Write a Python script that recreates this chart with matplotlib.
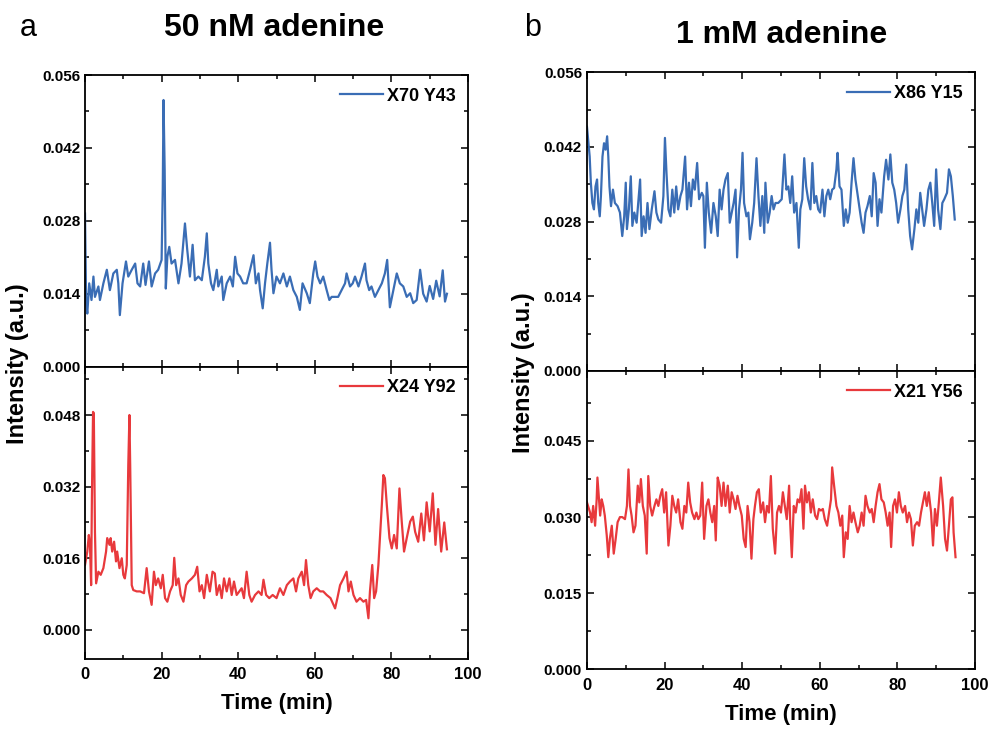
"""Adenine intensity traces: 50 nM vs 1 mM"""
import numpy as np
import matplotlib
matplotlib.use('Agg')
import matplotlib.pyplot as plt
from matplotlib.ticker import MultipleLocator, FormatStrFormatter

plt.rcParams['font.family'] = ['Liberation Sans', 'DejaVu Sans']
plt.rcParams['font.weight'] = 'bold'

BLUE = '#3A6DB5'
RED = '#E8393C'

# ---- a, top: X70 Y43 (intensity in 1e-3 a.u.)
t_a1 = [0.0, 0.3, 0.6, 1.1, 1.7, 2.2, 2.6, 3.5, 3.9, 4.8, 5.7, 6.5, 7.4, 8.3, 8.7, 9.1, 9.8,
        10.7, 11.3, 12.2, 13.1, 13.7, 14.4, 15.2, 15.8, 16.7, 17.4, 18.3, 19.1, 20.0, 20.3,
        20.5, 20.8, 21.1, 21.5, 22.0, 22.6, 23.5, 24.4, 25.2, 26.1, 26.7, 27.4, 28.1, 28.7,
        29.6, 30.5, 31.3, 31.8, 32.2, 32.9, 33.5, 34.4, 34.8, 35.7, 36.1, 37.0, 37.9, 38.6,
        39.2, 39.8, 40.5, 41.3, 42.2, 43.1, 44.0, 44.6, 45.3, 45.7, 46.4, 47.0, 47.6, 48.3,
        48.7, 49.2, 50.0, 50.9, 51.8, 52.7, 53.5, 54.4, 55.3, 56.1, 56.8, 57.9, 58.7, 59.6,
        60.1, 60.7, 61.4, 62.2, 63.1, 63.8, 64.4, 65.3, 66.1, 67.0, 67.9, 68.3, 69.2, 69.9,
        70.5, 71.4, 72.2, 73.1, 73.5, 74.2, 74.8, 75.7, 76.6, 77.5, 78.3, 78.9, 79.6, 80.5,
        81.4, 82.2, 83.1, 84.0, 84.9, 85.7, 86.6, 87.5, 88.3, 89.2, 90.0, 90.9, 91.7, 92.6,
        93.4, 94.0, 94.5]
v_a1 = [29.4, 12.2, 10.2, 16.0, 12.8, 17.3, 13.4, 15.4, 12.8, 16.0, 18.6, 14.7, 17.9, 18.6, 16.0,
        9.9, 16.0, 20.2, 17.3, 18.6, 19.8, 16.0, 15.4, 19.8, 15.7, 20.2, 15.4, 17.9, 18.6, 20.5,
        33.9, 51.2, 37.8, 15.0, 21.1, 23.0, 19.8, 20.5, 16.0, 19.8, 27.5, 22.4, 17.3, 23.4, 16.6,
        17.3, 16.6, 21.1, 25.6, 19.8, 16.0, 14.7, 18.6, 15.4, 17.3, 12.8, 16.0, 17.3, 15.4,
        21.1, 17.9, 17.3, 16.0, 16.0, 18.6, 21.4, 16.0, 17.9, 14.7, 11.2, 16.0, 19.8, 23.8,
        18.6, 14.1, 17.3, 16.0, 17.9, 15.4, 17.3, 14.7, 13.4, 10.9, 16.0, 14.1, 12.2, 17.9,
        20.2, 17.3, 16.0, 17.3, 14.7, 12.8, 13.4, 13.4, 13.4, 14.7, 16.0, 17.9, 15.4, 16.0,
        17.3, 15.4, 17.3, 19.8, 16.6, 14.7, 15.4, 13.4, 14.7, 16.0, 17.9, 20.5, 11.4, 14.7,
        17.9, 16.0, 15.4, 13.4, 14.1, 12.2, 12.8, 18.6, 14.0, 12.5, 15.5, 13.0, 16.5, 13.5,
        18.5, 12.5, 14.0]

# ---- a, bottom: X24 Y92
t_a2 = [0.0, 0.6, 1.0, 1.3, 1.6, 1.8, 2.1, 2.3, 2.6, 2.9, 3.5, 4.1, 4.8, 5.5, 5.8, 6.4, 6.7,
        7.1, 7.6, 8.1, 8.4, 9.0, 9.6, 10.0, 10.4, 10.9, 11.3, 11.6, 11.8, 12.2, 12.6, 13.5,
        14.4, 15.4, 16.1, 16.7, 17.4, 18.0, 18.5, 19.1, 19.8, 20.3, 20.9, 21.5, 22.2, 22.9,
        23.3, 23.8, 24.4, 25.0, 25.7, 26.4, 27.0, 27.9, 28.7, 29.3, 29.9, 30.5, 31.1, 31.8,
        32.6, 33.3, 33.9, 34.4, 35.1, 35.7, 36.3, 37.0, 37.7, 38.3, 38.9, 39.6, 40.3, 40.9,
        41.5, 42.2, 42.9, 43.5, 44.4, 45.3, 46.1, 46.6, 47.3, 48.1, 49.0, 50.0, 50.9, 51.8,
        52.7, 53.5, 54.4, 55.1, 55.7, 56.6, 57.2, 57.7, 58.3, 58.9, 59.6, 60.5, 61.4, 62.2,
        63.1, 64.1, 65.3, 65.9, 66.6, 67.5, 68.3, 68.8, 69.4, 70.1, 70.9, 71.8, 72.7, 73.4,
        74.0, 74.4, 75.0, 75.5, 76.0, 76.6, 77.0, 77.5, 77.9, 78.3, 78.8, 79.5, 80.1, 80.7,
        81.4, 82.1, 82.7, 83.3, 84.0, 84.9, 85.6, 86.2, 87.0, 87.8, 88.5, 89.2, 90.0, 90.8,
        91.5, 92.2, 93.0, 93.8, 94.5]
v_a2 = [14.5, 17.5, 21.2, 19.0, 10.0, 29.4, 48.7, 48.4, 21.9, 10.4, 13.0, 12.3, 13.8, 17.5, 20.5,
        19.0, 20.5, 17.5, 19.7, 15.3, 17.5, 13.8, 16.0, 12.3, 11.5, 14.5, 36.8, 48.0, 36.8, 10.0,
        8.9, 8.6, 8.6, 8.2, 13.8, 8.6, 5.6, 13.0, 10.0, 11.5, 9.3, 12.3, 7.1, 6.3, 8.6, 10.0,
        16.1, 10.0, 11.5, 7.8, 6.3, 10.0, 10.8, 11.5, 12.3, 14.1, 8.6, 10.0, 7.1, 12.3, 8.6,
        13.0, 12.6, 7.8, 10.0, 7.1, 11.5, 8.6, 11.5, 7.8, 10.8, 7.8, 8.6, 9.3, 7.1, 13.0, 7.8,
        6.3, 7.8, 8.6, 7.8, 11.2, 7.8, 7.1, 7.8, 7.1, 9.3, 7.8, 10.0, 10.8, 11.5, 8.6, 11.5,
        13.0, 10.0, 15.6, 10.0, 7.1, 8.6, 9.3, 8.6, 8.6, 7.8, 7.1, 4.8, 7.1, 10.0, 11.5, 13.0,
        8.6, 10.8, 7.8, 6.3, 7.1, 6.3, 6.7, 2.6, 8.6, 14.5, 7.1, 8.6, 14.5, 20.5, 27.9, 34.6,
        33.9, 27.9, 20.5, 18.2, 21.2, 18.2, 31.6, 24.2, 17.5, 20.5, 24.2, 25.3, 21.9, 19.7,
        26.0, 20.0, 28.5, 22.0, 30.5, 19.0, 27.0, 17.5, 24.0, 18.0]

# ---- b, top: X86 Y15
t_b1 = [0.0, 0.7, 1.0, 1.4, 1.8, 2.2, 2.6, 2.9, 3.3, 3.6, 4.0, 4.4, 4.8, 5.2, 5.5, 5.8, 6.2,
        6.7, 7.2, 7.9, 8.5, 9.1, 9.6, 10.0, 10.3, 10.8, 11.3, 11.7, 12.2, 12.8, 13.2, 13.7,
        14.1, 14.6, 15.1, 15.6, 16.1, 16.7, 17.4, 17.9, 18.4, 19.1, 19.7, 20.1, 20.5, 21.0,
        21.5, 22.0, 22.5, 23.0, 23.5, 24.1, 24.6, 25.3, 25.8, 26.3, 26.8, 27.3, 27.8, 28.4,
        28.9, 29.6, 30.0, 30.4, 30.9, 31.4, 32.0, 32.6, 33.2, 33.7, 34.2, 34.7, 35.2, 35.7,
        36.3, 36.8, 37.3, 37.8, 38.3, 38.7, 39.2, 39.7, 40.1, 40.5, 41.1, 41.6, 42.0, 42.6,
        43.1, 43.7, 44.2, 44.7, 45.2, 45.7, 46.0, 46.6, 47.1, 47.6, 48.1, 48.6, 49.3, 50.2,
        50.9, 51.4, 51.9, 52.4, 52.9, 53.4, 54.0, 54.6, 55.0, 55.5, 56.0, 56.5, 57.0, 57.6,
        58.1, 58.6, 59.1, 59.6, 60.1, 60.7, 61.2, 61.7, 62.2, 62.7, 63.2, 63.7, 64.3, 64.6,
        65.1, 65.6, 66.2, 66.7, 67.2, 67.7, 68.2, 68.7, 69.2, 69.8, 70.3, 70.8, 71.3, 71.8,
        72.3, 72.9, 73.4, 73.9, 74.4, 74.9, 75.4, 75.9, 76.6, 77.1, 77.7, 78.2, 78.7, 79.2,
        79.7, 80.2, 80.8, 81.3, 81.8, 82.3, 82.8, 83.3, 83.8, 84.4, 84.9, 85.4, 85.9, 86.4,
        86.9, 87.5, 88.0, 88.5, 89.0, 89.5, 90.0, 90.5, 91.1, 91.6, 92.1, 92.8, 93.3, 93.8,
        94.3, 94.8]
v_b1 = [45.8, 40.2, 35.3, 31.5, 30.3, 34.6, 35.9, 31.5, 29.0, 32.8, 40.2, 42.7, 41.5, 44.0, 40.2,
        34.6, 30.9, 34.0, 31.5, 30.9, 29.7, 25.3, 29.0, 35.3, 26.6, 30.3, 36.5, 27.2, 29.7, 27.8,
        31.5, 35.9, 25.3, 29.0, 25.9, 31.5, 26.6, 30.3, 33.7, 29.7, 28.4, 27.8, 32.8, 43.7, 37.1,
        30.3, 29.0, 34.0, 29.7, 34.6, 30.3, 32.8, 34.0, 40.2, 30.3, 35.3, 30.9, 35.9, 34.0, 39.0,
        32.2, 33.4, 32.8, 23.1, 35.3, 29.7, 25.9, 31.5, 29.0, 25.3, 34.0, 30.3, 34.0, 35.9, 37.1,
        27.8, 29.7, 31.5, 34.0, 21.3, 30.3, 34.0, 40.9, 31.5, 29.0, 29.7, 24.7, 27.8, 31.5, 39.9,
        32.8, 27.2, 32.8, 25.9, 35.3, 27.8, 29.7, 32.8, 30.3, 31.5, 31.5, 32.2, 40.6, 34.0, 34.6,
        31.5, 36.5, 29.7, 31.5, 23.1, 30.3, 32.2, 39.9, 34.6, 32.2, 30.3, 39.0, 31.5, 32.8, 30.3,
        29.7, 34.0, 29.0, 32.8, 34.0, 32.2, 34.0, 34.3, 37.8, 40.9, 34.6, 34.0, 27.2, 30.3, 27.8,
        29.7, 35.3, 39.9, 35.9, 32.8, 30.3, 27.8, 25.9, 29.7, 30.9, 32.8, 29.0, 37.1, 35.3, 27.2,
        32.2, 29.7, 36.5, 39.6, 35.9, 40.6, 35.3, 34.0, 31.5, 27.8, 30.3, 32.8, 34.0, 38.7, 30.3,
        25.3, 22.8, 26.6, 30.3, 27.8, 33.4, 30.3, 27.2, 30.3, 34.0, 35.3, 31.5, 27.2, 37.8, 30.3,
        26.6, 31.5, 32.2, 33.4, 37.8, 36.5, 32.8, 28.4]

# ---- b, bottom: X21 Y56
t_b2 = [0.0, 0.8, 1.2, 1.6, 2.1, 2.5, 2.7, 3.1, 3.4, 3.8, 4.2, 4.6, 5.1, 5.5, 5.9, 6.4, 6.9,
        7.4, 7.9, 8.5, 9.1, 9.8, 10.3, 10.7, 11.1, 11.5, 12.0, 12.5, 13.1, 13.5, 13.9, 14.4,
        14.9, 15.4, 15.8, 16.3, 16.8, 17.4, 17.9, 18.4, 18.9, 19.4, 19.9, 20.4, 21.0, 21.5,
        22.0, 22.5, 23.0, 23.5, 24.1, 24.6, 25.1, 25.6, 26.1, 26.6, 27.1, 27.7, 28.2, 28.7,
        29.2, 29.7, 30.2, 30.8, 31.3, 31.8, 32.3, 32.8, 33.2, 33.7, 34.2, 34.7, 35.2, 35.7,
        36.3, 36.8, 37.3, 37.8, 38.3, 38.8, 39.3, 39.9, 40.4, 40.9, 41.4, 41.9, 42.4, 42.9,
        43.3, 43.8, 44.3, 44.8, 45.4, 45.9, 46.4, 46.9, 47.4, 47.9, 48.5, 49.0, 49.5, 50.0,
        50.5, 51.0, 51.5, 52.1, 52.4, 52.8, 53.3, 53.8, 54.3, 54.8, 55.3, 55.8, 56.2, 56.7,
        57.2, 57.7, 58.2, 58.8, 59.3, 59.8, 60.3, 60.8, 61.3, 61.9, 62.4, 62.9, 63.2, 63.7,
        64.3, 64.8, 65.3, 65.8, 66.2, 66.7, 67.2, 67.7, 68.2, 68.7, 69.2, 69.8, 70.3, 70.8,
        71.3, 71.8, 72.3, 72.9, 73.4, 73.9, 74.4, 74.9, 75.4, 75.9, 76.5, 77.0, 77.5, 78.0,
        78.4, 78.9, 79.4, 79.9, 80.4, 80.9, 81.4, 82.0, 82.5, 83.0, 83.5, 84.0, 84.5, 85.1,
        85.6, 86.1, 86.6, 87.1, 87.6, 88.1, 88.7, 89.2, 89.7, 90.2, 90.7, 91.2, 91.8, 92.3,
        92.8, 93.3, 93.8, 94.2, 94.5, 95.0]
v_b2 = [32.9, 30.9, 29.0, 32.2, 28.3, 33.5, 37.8, 33.5, 30.3, 33.5, 32.2, 30.3, 26.4, 22.1, 25.7,
        28.3, 22.8, 25.7, 29.0, 30.0, 30.0, 29.6, 32.2, 39.4, 32.2, 30.3, 27.0, 28.3, 36.2, 32.9,
        37.5, 32.2, 30.3, 22.8, 38.1, 32.2, 30.3, 32.2, 33.5, 32.2, 34.2, 35.5, 30.9, 34.9, 24.4,
        28.3, 34.2, 32.2, 30.9, 33.5, 29.0, 27.7, 32.2, 30.9, 36.8, 32.9, 30.9, 29.6, 30.9, 29.6,
        30.3, 36.8, 25.7, 32.2, 33.5, 30.9, 29.0, 32.2, 25.4, 37.8, 36.2, 32.2, 36.8, 32.2, 36.2,
        30.9, 34.9, 33.5, 31.6, 34.2, 32.2, 30.3, 25.7, 24.1, 32.2, 29.0, 21.8, 29.6, 32.2, 34.9,
        35.5, 30.9, 32.9, 29.0, 32.2, 30.9, 38.1, 27.7, 22.8, 30.9, 32.2, 30.9, 34.9, 32.2, 29.6,
        36.2, 28.6, 22.1, 32.2, 30.9, 33.5, 32.9, 35.5, 27.7, 36.2, 32.9, 34.9, 30.9, 33.5, 30.3,
        29.6, 31.6, 31.3, 31.6, 29.6, 28.3, 30.9, 33.5, 39.8, 36.2, 32.2, 30.9, 28.3, 30.3, 22.1,
        27.0, 25.7, 32.2, 29.0, 30.9, 29.0, 27.0, 28.3, 30.9, 28.3, 34.2, 32.2, 30.9, 31.6, 29.0,
        32.2, 34.9, 36.5, 33.5, 32.9, 30.9, 28.3, 30.9, 24.1, 32.2, 33.5, 30.9, 34.9, 32.2, 30.9,
        32.2, 29.0, 30.9, 29.6, 24.4, 28.3, 29.0, 28.3, 30.9, 32.9, 34.9, 32.2, 34.9, 30.9, 24.4,
        31.6, 28.3, 32.9, 37.8, 32.2, 25.7, 23.4, 28.3, 33.5, 33.9, 27.0, 22.1]

panels = [
    # rect, t, v, color, label, ylim, major, minor
    ([0.0856, 0.4984, 0.3857, 0.3990], t_a1, v_a1, BLUE, 'X70 Y43', (0, 0.056), 0.014, 0.007),
    ([0.0856, 0.0985, 0.3857, 0.3999], t_a2, v_a2, RED, 'X24 Y92', (-0.0065, 0.0588), 0.016, 0.008),
    ([0.5911, 0.4925, 0.3907, 0.4086], t_b1, v_b1, BLUE, 'X86 Y15', (0, 0.056), 0.014, 0.007),
    ([0.5911, 0.0844, 0.3907, 0.4081], t_b2, v_b2, RED, 'X21 Y56', (0, 0.0588), 0.015, 0.0075),
]

fig = plt.figure(figsize=(9.93, 7.31), dpi=100)
for i, (rect, t, v, c, lab, yl, maj, mnr) in enumerate(panels):
    ax = fig.add_axes(rect)
    ax.plot(t, np.array(v) * 1e-3, color=c, lw=1.6, label=lab)
    ax.set_xlim(0, 100)
    ax.set_ylim(*yl)
    ax.xaxis.set_major_locator(MultipleLocator(20))
    ax.xaxis.set_minor_locator(MultipleLocator(10))
    ax.yaxis.set_major_locator(MultipleLocator(maj))
    ax.yaxis.set_minor_locator(MultipleLocator(mnr))
    ax.yaxis.set_major_formatter(FormatStrFormatter('%.3f'))
    ax.tick_params(which='both', direction='in', top=True, right=True, width=1.1)
    ax.tick_params(which='major', length=5, labelsize=11)
    ax.tick_params(which='minor', length=3)
    ax.tick_params(axis='x', labelsize=12, pad=6)
    for s in ax.spines.values():
        s.set_linewidth(1.3)
    if i % 2 == 0:
        ax.tick_params(axis='x', labelbottom=False)
    else:
        ax.set_xlabel('Time (min)', fontsize=16, fontweight='bold', labelpad=8)
    leg = ax.legend(loc='upper right', frameon=False, fontsize=13, handlelength=2.4,
                    handletextpad=0.2, borderaxespad=0.3)
    for tx in leg.get_texts():
        tx.set_fontweight('bold')

fig.text(0.018, 0.503, 'Intensity (a.u.)', rotation=90, ha='center', va='center',
         fontsize=17, fontweight='bold')
fig.text(0.527, 0.49, 'Intensity (a.u.)', rotation=90, ha='center', va='center',
         fontsize=17, fontweight='bold')
fig.text(0.276, 0.962, '50 nM adenine', ha='center', va='center', fontsize=23, fontweight='bold')
fig.text(0.787, 0.952, '1 mM adenine', ha='center', va='center', fontsize=23, fontweight='bold')
fig.text(0.028, 0.962, 'a', ha='center', va='center', fontsize=22, fontweight='normal')
fig.text(0.536, 0.962, 'b', ha='center', va='center', fontsize=22, fontweight='normal')

fig.savefig('out.png', dpi=100)
